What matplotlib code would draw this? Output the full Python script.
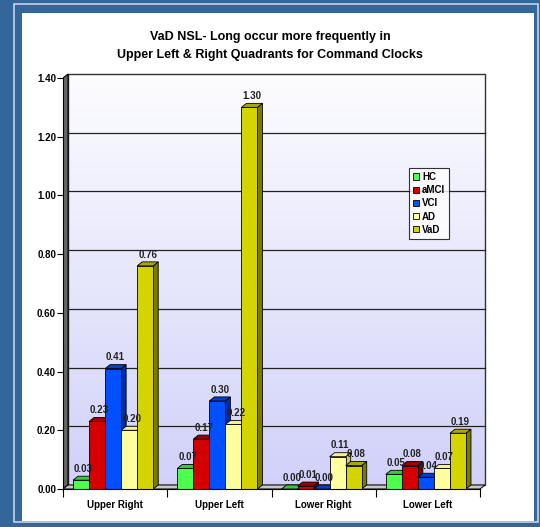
import matplotlib.pyplot as plt
import numpy as np
from matplotlib.patches import Polygon, Rectangle, Patch

plt.rcParams["font.family"] = ["Liberation Sans", "DejaVu Sans"]

# Datos del gráfico
cuadrantes = ["Upper Right", "Upper Left", "Lower Right", "Lower Left"]
grupos = ["HC", "aMCI", "VCI", "AD", "VaD"]
hc = [0.03, 0.07, 0.00, 0.05]
amci = [0.23, 0.17, 0.01, 0.08]
vci = [0.41, 0.30, 0.00, 0.04]
ad = [0.20, 0.22, 0.11, 0.07]
vad = [0.76, 1.30, 0.08, 0.19]
series = [hc, amci, vci, ad, vad]
yticks = [0.0, 0.2, 0.4, 0.6, 0.8, 1.0, 1.2, 1.4]

colores_frente = ["#4cff4c", "#d40000", "#0050ff", "#ffffa0", "#d4d400"]
colores_lado = ["#2e9a2e", "#800000", "#0030a0", "#d8c070", "#7a7a00"]
colores_arriba = ["#38c838", "#a00000", "#0040d0", "#ffee90", "#a8a800"]

W, H = 540, 527
fig = plt.figure(figsize=(W / 100, H / 100), dpi=100)
fig.patch.set_facecolor("#336699")

# Marco blanco
fig.patches.append(Rectangle((14 / W, 1 - 522 / H), 524 / W, 518 / H,
                             transform=fig.transFigure, facecolor="none",
                             edgecolor="#c8d4e8", linewidth=1.2, zorder=-2))
fig.patches.append(Rectangle((22 / W, 1 - 521 / H), 512 / W, 508 / H,
                             transform=fig.transFigure, facecolor="white",
                             edgecolor="none", zorder=-1))

# Ejes en píxeles
x0p, x1p = 63, 480
y0p, y1p = 489, 78
ax_left, ax_right, ax_top = 63, 492, 72
ax = fig.add_axes([ax_left / W, 1 - y0p / H, (ax_right - ax_left) / W, (y0p - ax_top) / H])
sx = 4 / (x1p - x0p)
sy = 1.4 / (y0p - y1p)
ax.patch.set_alpha(0)
dx = 5 * sx
dy = 4 * sy

# Pared del fondo con degradado
grad = np.linspace(0, 1, 256).reshape(-1, 1)
c_bajo = np.array([0.82, 0.82, 0.98])
c_alto = np.array([0.99, 0.99, 1.0])
img = c_bajo + (c_alto - c_bajo) * grad[:, :, None]
ax.imshow(img, extent=[dx, 4 + dx, dy, 1.4 + dy], origin="lower", aspect="auto", zorder=0)
ax.set_xlim(0, (ax_right - ax_left) * sx)
ax.set_ylim(0, (y0p - ax_top) * sy)
ax.add_patch(Rectangle((dx, dy), 4, 1.4, facecolor="none", edgecolor="#333333", linewidth=1.0, zorder=1))

# Pared izquierda
ax.add_patch(Polygon([(0, 0), (dx, dy), (dx, 1.4 + dy), (0, 1.4)], closed=True,
                     facecolor="#666666", edgecolor="black", linewidth=0.8, zorder=1))

# Rejilla
for t in yticks[1:-1]:
    ax.plot([dx, 4 + dx], [t + dy, t + dy], color="#222222", linewidth=0.9, zorder=1)

# Suelo
ax.add_patch(Polygon([(0, 0), (4, 0), (4 + dx, dy), (dx, dy)], closed=True,
                     facecolor="#c8c8c8", edgecolor="black", linewidth=0.7, zorder=2))

# Barras 3D
ancho = 16 / 104
offset = 10 / 104
for g in range(len(cuadrantes)):
    for s in range(len(series)):
        v = series[s][g]
        xa = g + offset + s * ancho
        z = 3 + s * 0.1
        ax.add_patch(Polygon([(xa + ancho, 0), (xa + ancho + dx, dy), (xa + ancho + dx, v + dy), (xa + ancho, v)],
                             closed=True, facecolor=colores_lado[s], edgecolor="black", linewidth=0.6, zorder=z))
        ax.add_patch(Polygon([(xa, v), (xa + ancho, v), (xa + ancho + dx, v + dy), (xa + dx, v + dy)],
                             closed=True, facecolor=colores_arriba[s], edgecolor="black", linewidth=0.6, zorder=z))
        ax.add_patch(Rectangle((xa, 0), ancho, v, facecolor=colores_frente[s],
                               edgecolor="black", linewidth=0.6, zorder=z + 0.01))
        ax.text(xa + ancho / 2 + dx / 2, v + dy + 0.008, f"{v:.2f}", ha="center", va="bottom",
                fontsize=7, fontweight="bold", color="#222222", zorder=10)

# Ejes
for lado in ["top", "right"]:
    ax.spines[lado].set_visible(False)
ax.spines["left"].set_bounds(0, 1.4)
ax.spines["bottom"].set_bounds(0, 4)
ax.spines["left"].set_zorder(5)
ax.spines["bottom"].set_zorder(5)
ax.set_yticks(yticks)
ax.set_yticklabels([f"{t:.2f}" for t in yticks], fontsize=7, fontweight="bold")
ax.set_xticks([0, 1, 2, 3, 4])
ax.set_xticklabels([])
ax.set_xticks([0.5, 1.5, 2.5, 3.5], minor=True)
ax.set_xticklabels(cuadrantes, minor=True, fontsize=7, fontweight="bold")
ax.tick_params(axis="x", which="minor", length=0, pad=8)
ax.tick_params(axis="x", which="major", length=6, width=0.8, direction="out")
ax.tick_params(axis="y", length=4, width=0.8, pad=1)

# Leyenda
manejadores = [Patch(facecolor=colores_frente[i], edgecolor="black", linewidth=0.6, label=grupos[i])
               for i in range(len(grupos))]
leg = fig.legend(handles=manejadores, loc="upper left",
                 bbox_to_anchor=(409 / W, 1 - 168 / H), prop={"weight": "bold", "size": 7},
                 handlelength=0.6, handleheight=0.6, handletextpad=0.35, borderpad=0.4,
                 labelspacing=0.33, frameon=True, fancybox=False, borderaxespad=0)
leg.get_frame().set_edgecolor("black")
leg.get_frame().set_linewidth(0.8)

# Título
fig.text(270 / W, 1 - 37 / H, "VaD NSL- Long occur more frequently in", ha="center", va="center",
         fontsize=9, fontweight="bold")
fig.text(270 / W, 1 - 55 / H, "Upper Left & Right Quadrants for Command Clocks", ha="center", va="center",
         fontsize=9, fontweight="bold")

plt.savefig("out.png", dpi=100, facecolor=fig.get_facecolor())
